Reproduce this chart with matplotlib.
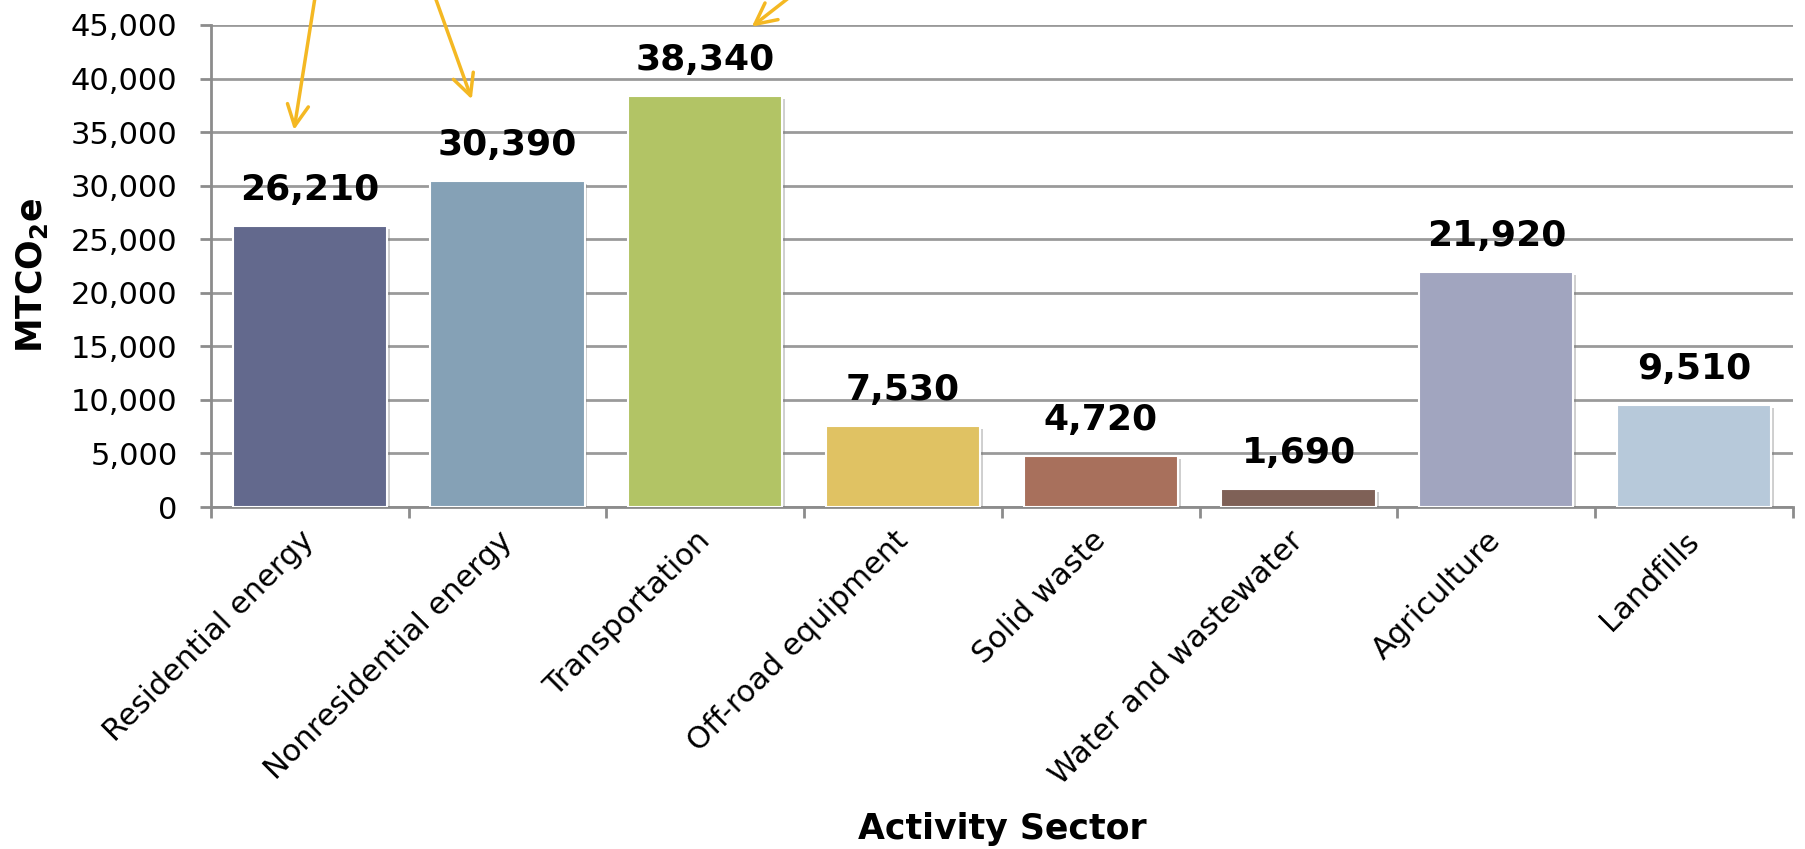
import matplotlib.pyplot as plt
import matplotlib.patheffects as pe
from matplotlib.ticker import FuncFormatter, FixedLocator
import numpy as np

# data
sectors = ['Residential energy', 'Nonresidential energy', 'Transportation',
           'Off-road equipment', 'Solid waste', 'Water and wastewater',
           'Agriculture', 'Landfills']
emissions = [26210, 30390, 38340, 7530, 4720, 1690, 21920, 9510]
bar_colors = ['#63698D', '#85A1B6', '#B2C465', '#E0C263',
              '#A8705C', '#7F6157', '#A1A5BF', '#B7C9DA']
y_ticks = list(range(0, 45001, 5000))

# yellow call-out arrows coming in from above the chart (tail, tip) in data units
arrow_tails = [(0.048, 50100), (0.585, 50100), (2.60, 50100)]
arrow_tips = [(-0.080, 35200), (0.819, 38060), (2.235, 44840)]

plt.rcParams['font.family'] = 'DejaVu Sans'

fig = plt.figure(figsize=(18.06, 8.49), dpi=100)
ax = fig.add_axes([0.1168, 0.4028, 0.876, 0.5678])

x = np.arange(len(sectors))
bars = ax.bar(x, emissions, width=0.78, color=bar_colors,
              edgecolor='white', linewidth=1.5, zorder=3)
for b in bars:
    b.set_path_effects([pe.SimplePatchShadow(offset=(2, -2), shadow_rgbFace='#777777', alpha=0.35),
                        pe.Normal()])

for xi, v in zip(x, emissions):
    ax.annotate(f'{v:,}', (xi, v), xytext=(0, 19), textcoords='offset points',
                ha='center', va='baseline', fontsize=26, fontweight='bold', zorder=4)

for (tx, ty), (hx, hy) in zip(arrow_tails, arrow_tips):
    ax.annotate('', xy=(hx, hy), xytext=(tx, ty), xycoords='data',
                arrowprops=dict(arrowstyle='->', color='#F4B823', lw=2.5,
                                mutation_scale=38, shrinkA=0, shrinkB=0),
                zorder=5)

ax.set_xlim(-0.5, len(sectors) - 0.5)
ax.set_ylim(0, 45000)
ax.set_yticks(y_ticks)
ax.yaxis.set_major_formatter(FuncFormatter(lambda v, p: f'{int(v):,}'))

ax.set_xticks(x)
ax.set_xticklabels(sectors, rotation=45, ha='right', va='center',
                   rotation_mode='anchor', fontsize=22)
ax.xaxis.set_minor_locator(FixedLocator(np.arange(-0.5, len(sectors), 1.0)))
ax.tick_params(axis='x', which='major', length=0, pad=21)
ax.tick_params(axis='x', which='minor', length=8, width=2, color='#8c8c8c')
ax.tick_params(axis='y', length=8, width=2, color='#8c8c8c', labelsize=22, pad=16)

ax.grid(axis='y', color='#9a9a9a', linewidth=2, zorder=0)
ax.set_axisbelow(True)

ax.spines['right'].set_color('none')
ax.spines['top'].set_color('none')
ax.spines['left'].set_color('#8c8c8c')
ax.spines['bottom'].set_color('#8c8c8c')
ax.spines['left'].set_linewidth(2)
ax.spines['bottom'].set_linewidth(2)

ax.set_ylabel(r'MTCO$_\mathbf{2}$e', fontsize=25, fontweight='bold')
ax.yaxis.set_label_coords(-0.102, 0.48)
ax.set_xlabel('Activity Sector', fontsize=25, fontweight='bold')
ax.xaxis.set_label_coords(0.5, -0.632)

fig.savefig('out.png', dpi=100)
